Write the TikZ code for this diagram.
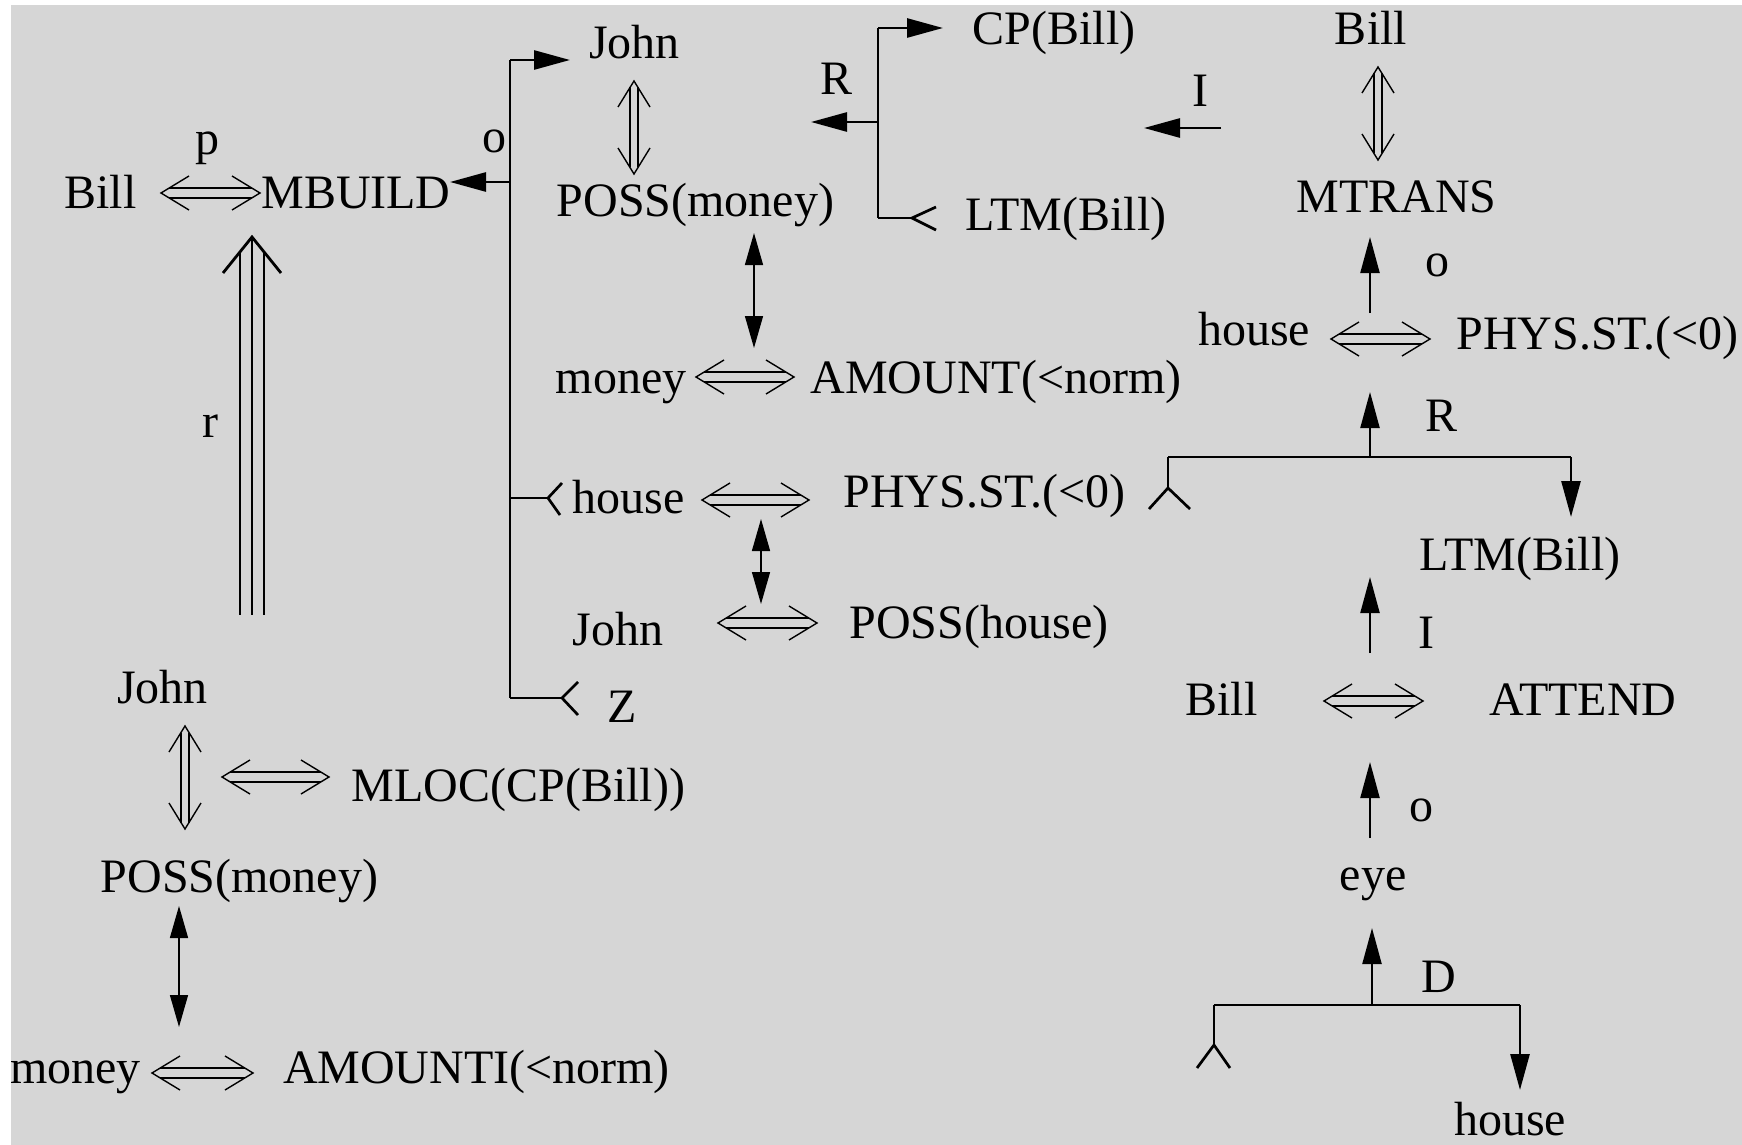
\documentclass[tikz,border=0pt]{standalone}
\usepackage{fontspec}
\setmainfont{Liberation Serif}
\usetikzlibrary{arrows.meta,calc}
\definecolor{bg}{HTML}{D6D6D6}
\newcommand{\hdbl}[2]{%
  \draw[dbl] ($(#1)+(8,-5)$) -- ($(#2)+(-8,-5)$);
  \draw[dbl] ($(#1)+(8,5)$) -- ($(#2)+(-8,5)$);
  \draw[dbl] ($(#1)+(28,-17)$) -- (#1) -- ($(#1)+(28,17)$);
  \draw[dbl] ($(#2)+(-28,-17)$) -- (#2) -- ($(#2)+(-28,17)$);
}
\newcommand{\vdbl}[2]{%
  \draw[dbl] ($(#1)+(-4,6.5)$) -- ($(#2)+(-4,-6.5)$);
  \draw[dbl] ($(#1)+(4,6.5)$) -- ($(#2)+(4,-6.5)$);
  \draw[dbl] ($(#1)+(-16,26)$) -- (#1) -- ($(#1)+(16,26)$);
  \draw[dbl] ($(#2)+(-16,-26)$) -- (#2) -- ($(#2)+(16,-26)$);
}
\begin{document}
\begin{tikzpicture}[x=0.5pt,y=-0.5pt,
  txt/.style={anchor=base,inner sep=0pt,font=\fontsize{24}{28}\selectfont},
  br/.style={line width=1.35pt},
  arr/.style={line width=1.35pt,-{Triangle[length=18pt,width=9.5pt]}},
  uparr/.style={line width=1.1pt,-{Triangle[length=18pt,width=9.5pt]}},
  arrb/.style={line width=0.7pt,{Triangle[length=16pt,width=9pt]}-{Triangle[length=16pt,width=9pt]}},
  dbl/.style={line width=0.7pt},
  trip/.style={line width=1pt},
  triphead/.style={line width=1.4pt}]
\useasboundingbox (0,0) rectangle (1742,1145);
\fill[white] (0,0) rectangle (1742,1145);
\fill[bg] (11,5) rectangle (1742,1145);

% ---------- text nodes ----------
\node[txt] (billL) at (100.5,208) {Bill};
\node[txt] (p) at (207,155) {p};
\node[txt] (mbuild) at (356,208) {MBUILD};
\node[txt] (o1) at (494,153) {o};
\node[txt] (john1) at (634.5,59) {John};
\node[txt] (possm1) at (695.5,217) {POSS(money)};
\node[txt] (money1) at (621,393) {money};
\node[txt] (amount) at (996,393) {AMOUNT(<norm)};
\node[txt] (house1) at (628.5,513) {house};
\node[txt] (phys1) at (984.5,507) {PHYS.ST.(<0)};
\node[txt] (john2) at (618,645) {John};
\node[txt] (possh) at (979,638) {POSS(house)};
\node[txt] (z) at (622.5,722) {Z};
\node[txt] (cp) at (1054,45) {CP(Bill)};
\node[txt] (r1) at (836.5,95) {R};
\node[txt] (ltm1) at (1066,230) {LTM(Bill)};
\node[txt] (i1) at (1200.5,107) {I};
\node[txt] (bill2) at (1371,45) {Bill};
\node[txt] (mtrans) at (1396.5,213) {MTRANS};
\node[txt] (o2) at (1437,277) {o};
\node[txt] (house2) at (1254,345) {house};
\node[txt] (phys2) at (1597.5,350) {PHYS.ST.(<0)};
\node[txt] (r2) at (1441,431) {R};
\node[txt] (ltm2) at (1520,570) {LTM(Bill)};
\node[txt] (i2) at (1426,648) {I};
\node[txt] (bill3) at (1221.5,715) {Bill};
\node[txt] (attend) at (1583,715) {ATTEND};
\node[txt] (o3) at (1421.5,821) {o};
\node[txt] (eye) at (1373,890) {eye};
\node[txt] (d) at (1439,992) {D};
\node[txt] (house3) at (1510,1135) {house};
\node[txt] (rr) at (210.5,437) {r};
\node[txt] (john3) at (162.5,703) {John};
\node[txt] (mloc) at (518.5,801) {MLOC(CP(Bill))};
\node[txt] (possm2) at (239.5,892) {POSS(money)};
\node[txt] (money2) at (75.5,1083) {money};
\node[txt] (amounti) at (476.5,1083) {AMOUNTI(<norm)};

% ---------- coordinates ----------
\coordinate (oTop) at (510,60);
\coordinate (oMid) at (510,182);
\coordinate (oHouse) at (510,498);
\coordinate (oBot) at (510,698);
\coordinate (johnTip) at (570,60);
\coordinate (mbTip) at (450,182);
\coordinate (hV) at (548,498);
\coordinate (hA) at (562,483);
\coordinate (hB) at (560,515);
\coordinate (zV) at (562,698);
\coordinate (zA) at (578,682);
\coordinate (zB) at (578,715);

\coordinate (rTop) at (878,28);
\coordinate (rMid) at (878,122);
\coordinate (rBot) at (878,218);
\coordinate (cpTip) at (943,28);
\coordinate (rTip) at (811,122);
\coordinate (lV) at (912,218);
\coordinate (lA) at (936,207);
\coordinate (lB) at (936,230);
\coordinate (iTail) at (1221,128);
\coordinate (iTip) at (1144,128);

\coordinate (b2a) at (1378,67);
\coordinate (b2b) at (1378,160);
\coordinate (mtT) at (1370,313);
\coordinate (mtH) at (1370,237);
\coordinate (h2a) at (1331,339);
\coordinate (h2b) at (1430,339);
\coordinate (rBarM) at (1370,457);
\coordinate (rUpTip) at (1370,392);
\coordinate (rBarL) at (1168,457);
\coordinate (rBarR) at (1571,457);
\coordinate (rLV) at (1168,488);
\coordinate (rLA) at (1149,509);
\coordinate (rLB) at (1190,509);
\coordinate (rRTip) at (1571,517);
\coordinate (iT) at (1370,653);
\coordinate (iH) at (1370,577);
\coordinate (b3a) at (1324,701);
\coordinate (b3b) at (1423,701);
\coordinate (oT) at (1370,838);
\coordinate (oH) at (1370,762);
\coordinate (dBarM) at (1372,1005);
\coordinate (dUpTip) at (1372,928);
\coordinate (dBarL) at (1214,1005);
\coordinate (dBarR) at (1520,1005);
\coordinate (dLV) at (1214,1045);
\coordinate (dLA) at (1197,1068);
\coordinate (dLB) at (1230,1068);
\coordinate (dRTip) at (1520,1090);

\coordinate (j1a) at (634,81);
\coordinate (j1b) at (634,174);
\coordinate (pmA) at (754,233);
\coordinate (pmB) at (754,348);
\coordinate (m1a) at (696,377);
\coordinate (m1b) at (794,377);
\coordinate (h1a) at (702,500);
\coordinate (h1b) at (809,500);
\coordinate (hjA) at (761,519);
\coordinate (hjB) at (761,604);
\coordinate (j2a) at (718,623);
\coordinate (j2b) at (817,623);

\coordinate (blA) at (161,193);
\coordinate (blB) at (260,193);
\coordinate (tTip) at (252,237);
\coordinate (tArmL) at (223,273);
\coordinate (tArmR) at (281,273);
\coordinate (tLt) at (240,252);
\coordinate (tLb) at (240,615);
\coordinate (tMb) at (252,615);
\coordinate (tRt) at (264,252);
\coordinate (tRb) at (264,615);
\coordinate (j3a) at (185,726);
\coordinate (j3b) at (185,829);
\coordinate (mlA) at (222,777);
\coordinate (mlB) at (329,777);
\coordinate (p2A) at (179,906);
\coordinate (p2B) at (179,1027);
\coordinate (m2a) at (152,1073);
\coordinate (m2b) at (253,1073);

% ---------- o branch ----------
\draw[br] (oTop) -- (oBot);
\draw[arr] (oTop) -- (johnTip);
\draw[arr] (oMid) -- (mbTip);
\draw[br] (oHouse) -- (hV);
\draw[br] (hA) -- (hV) -- (hB);
\draw[br] (oBot) -- (zV);
\draw[br] (zA) -- (zV) -- (zB);

% ---------- R branch (top) ----------
\draw[br] (rTop) -- (rBot);
\draw[arr] (rTop) -- (cpTip);
\draw[arr] (rMid) -- (rTip);
\draw[br] (rBot) -- (lV);
\draw[br] (lA) -- (lV) -- (lB);
\draw[arr] (iTail) -- (iTip);

% ---------- right column ----------
\vdbl{b2a}{b2b}
\draw[uparr] (mtT) -- (mtH);
\hdbl{h2a}{h2b}
\draw[uparr] (rBarM) -- (rUpTip);
\draw[br] (rBarL) -- (rBarR);
\draw[br] (rBarL) -- (rLV);
\draw[br] (rLA) -- (rLV) -- (rLB);
\draw[arr] (rBarR) -- (rRTip);
\draw[uparr] (iT) -- (iH);
\hdbl{b3a}{b3b}
\draw[uparr] (oT) -- (oH);
\draw[uparr] (dBarM) -- (dUpTip);
\draw[br] (dBarL) -- (dBarR);
\draw[br] (dBarL) -- (dLV);
\draw[br] (dLA) -- (dLV) -- (dLB);
\draw[arr] (dBarR) -- (dRTip);

% ---------- middle ----------
\vdbl{j1a}{j1b}
\draw[arrb] (pmA) -- (pmB);
\hdbl{m1a}{m1b}
\hdbl{h1a}{h1b}
\draw[arrb] (hjA) -- (hjB);
\hdbl{j2a}{j2b}

% ---------- left ----------
\hdbl{blA}{blB}
\draw[triphead] (tArmL) -- (tTip) -- (tArmR);
\draw[trip] (tLt) -- (tLb);
\draw[trip] (tTip) -- (tMb);
\draw[trip] (tRt) -- (tRb);
\vdbl{j3a}{j3b}
\hdbl{mlA}{mlB}
\draw[arrb] (p2A) -- (p2B);
\hdbl{m2a}{m2b}
\end{tikzpicture}
\end{document}
